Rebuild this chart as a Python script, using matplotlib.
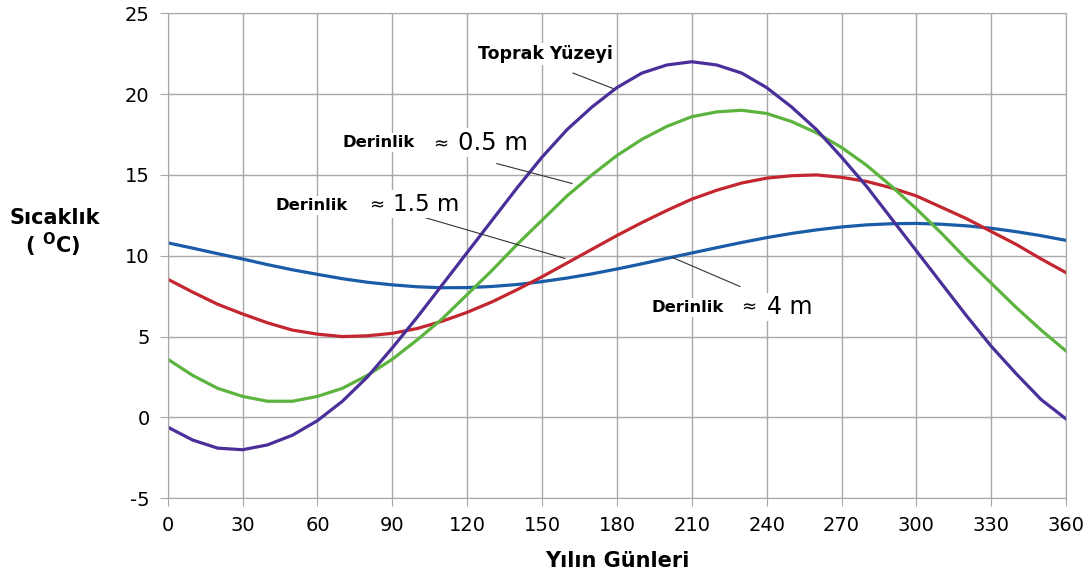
import matplotlib.pyplot as plt

plt.rcParams["axes.unicode_minus"] = False

# day of year
days = list(range(0, 361, 10))

# values (deg C), every 10 days
surface = [-0.6, -1.4, -1.9, -2.0, -1.7, -1.1, -0.2, 1.0, 2.5, 4.3, 6.2, 8.2, 10.2,
           12.2, 14.2, 16.1, 17.8, 19.2, 20.4, 21.3, 21.8, 22.0, 21.8, 21.3, 20.4,
           19.2, 17.8, 16.1, 14.3, 12.3, 10.3, 8.3, 6.3, 4.4, 2.7, 1.1, -0.1]
depth_05 = [3.6, 2.6, 1.8, 1.3, 1.0, 1.0, 1.3, 1.8, 2.6, 3.6, 4.8, 6.1, 7.6,
            9.1, 10.7, 12.2, 13.7, 15.0, 16.2, 17.2, 18.0, 18.6, 18.9, 19.0, 18.8,
            18.3, 17.6, 16.7, 15.6, 14.3, 12.9, 11.4, 9.8, 8.3, 6.8, 5.4, 4.1]
depth_15 = [8.55, 7.75, 7.0, 6.4, 5.85, 5.4, 5.15, 5.0, 5.05, 5.2, 5.5, 5.95, 6.5,
            7.15, 7.9, 8.7, 9.55, 10.4, 11.25, 12.05, 12.8, 13.5, 14.05, 14.5, 14.8,
            14.95, 15.0, 14.85, 14.6, 14.2, 13.7, 13.0, 12.3, 11.5, 10.7, 9.8, 8.95]
depth_4 = [10.8, 10.47, 10.13, 9.8, 9.45, 9.13, 8.85, 8.58, 8.36, 8.2, 8.08, 8.02, 8.03,
           8.1, 8.22, 8.4, 8.62, 8.88, 9.18, 9.5, 9.84, 10.17, 10.5, 10.82, 11.12,
           11.38, 11.6, 11.78, 11.91, 11.98, 12.0, 11.95, 11.85, 11.7, 11.49, 11.24, 10.95]

colors = {"surface": "#4a2f9a", "d05": "#5cb43e", "d15": "#c3262f", "d4": "#1a5ca8"}

fig = plt.figure(figsize=(10.89, 5.76), dpi=100)
ax = fig.add_axes([0.154, 0.135, 0.825, 0.842])

kw = dict(lw=2.3, solid_joinstyle="round", solid_capstyle="round")
ax.plot(days, depth_4, color=colors["d4"], **kw)
ax.plot(days, depth_15, color=colors["d15"], **kw)
ax.plot(days, depth_05, color=colors["d05"], **kw)
ax.plot(days, surface, color=colors["surface"], **kw)

ax.set_xlim(0, 360)
ax.set_ylim(-5, 25)
ax.set_xticks(range(0, 361, 30))
ax.set_yticks(range(-5, 26, 5))
ax.grid(True, color="#a8a8a8", lw=1.0)
ax.set_axisbelow(True)
for s in ax.spines.values():
    s.set_color("#a8a8a8")
ax.tick_params(direction="out", length=6, color="#a8a8a8", labelsize=14, pad=7)

ax.set_xlabel("Yılın Günleri", fontsize=15, fontweight="bold", labelpad=11)
fig.text(0.05, 0.621, "Sıcaklık", fontsize=15, fontweight="bold", ha="center", va="center")
fig.text(0.048, 0.574, r"( $\mathbf{^{O}}$C)", fontsize=15, fontweight="bold", ha="center", va="center")

box = dict(facecolor="white", edgecolor="none", pad=1.5)
lead = dict(color="#333333", lw=0.8)

# labels + leader lines
ax.text(151.5, 22.5, "Toprak Yüzeyi", fontsize=12.5, fontweight="bold", ha="center", va="center", bbox=box)
ax.plot([162.4, 178.4], [21.3, 20.35], **lead)

ax.text(84.6, 17.0, "Derinlik", fontsize=11.8, fontweight="bold", ha="center", va="center", bbox=box)
ax.text(109.3, 16.9, "≈", fontsize=13, ha="center", va="center")
ax.text(116.3, 17.0, "0.5 m", fontsize=17.5, ha="left", va="center", bbox=box)
ax.plot([131.9, 162.0], [15.7, 14.47], **lead)

ax.text(57.5, 13.1, "Derinlik", fontsize=11.8, fontweight="bold", ha="center", va="center", bbox=box)
ax.text(83.8, 13.1, "≈", fontsize=13, ha="center", va="center")
ax.text(90.2, 13.2, "1.5 m", fontsize=16.5, ha="left", va="center", bbox=box)
ax.plot([100.2, 159.2], [12.49, 9.83], **lead)

ax.text(208.3, 6.8, "Derinlik", fontsize=11.8, fontweight="bold", ha="center", va="center", bbox=box)
ax.text(232.8, 6.8, "≈", fontsize=13, ha="center", va="center")
ax.text(240.2, 6.85, "4 m", fontsize=17, ha="left", va="center", bbox=box)
ax.plot([202.1, 229.3], [9.9, 8.1], **lead)

plt.savefig("out.png", dpi=100)
